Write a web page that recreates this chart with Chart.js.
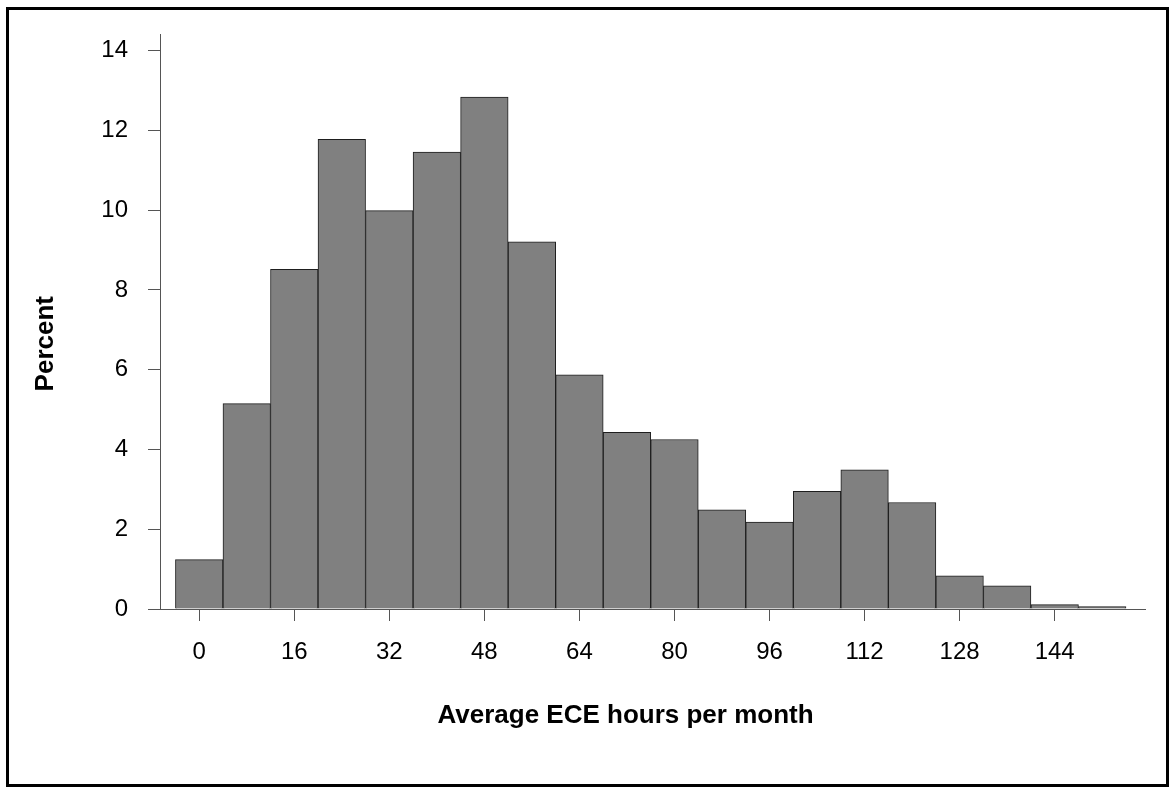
<!DOCTYPE html>
<html>
<head>
<meta charset="utf-8">
<script src="https://cdn.jsdelivr.net/npm/chart.js@4/dist/chart.umd.min.js"></script>
<style>
  html, body { margin: 0; padding: 0; background: #fff; }
  #wrap { position: absolute; left: 0; top: 0; width: 1171px; height: 788px; }
  #frame { position: absolute; left: 6px; top: 7px; width: 1163px; height: 780px; box-sizing: border-box; border: 3px solid #000; pointer-events: none; }
</style>
</head>
<body>
<div id="wrap"><canvas id="c" width="1171" height="788"></canvas></div>
<div id="frame"></div>
<script>
// Bin centres (hours per month), bin width 8
const binCentres = [0, 8, 16, 24, 32, 40, 48, 56, 64, 72, 80, 88, 96, 104, 112, 120, 128, 136, 144, 152];
// Percent of observations in each bin
const percentValues = [1.24, 5.15, 8.52, 11.78, 9.99, 11.46, 12.84, 9.21, 5.87, 4.43, 4.25, 2.49, 2.18, 2.95, 3.49, 2.67, 0.83, 0.58, 0.11, 0.06];
// Tick labels
const xTickValues = [0, 16, 32, 48, 64, 80, 96, 112, 128, 144];
const yTickValues = [0, 2, 4, 6, 8, 10, 12, 14];
const xTitle = 'Average ECE hours per month';
const yTitle = 'Percent';

const FONT = "'Liberation Sans', Arial, Helvetica, sans-serif";
const AXIS = '#555555';

// Axis titles placed where the reference has them (not centred on the plot area)
const titlesPlugin = {
  id: 'axisTitles',
  afterDraw(chart) {
    const ctx = chart.ctx;
    const area = chart.chartArea;
    ctx.save();
    ctx.font = "bold 26px " + FONT;
    ctx.fillStyle = '#000';
    ctx.textAlign = 'center';
    ctx.textBaseline = 'middle';
    // x title
    ctx.fillText(xTitle, area.left + 465.5, area.bottom + 107);
    // y title (rotated)
    ctx.translate(46, (area.top + area.bottom) / 2 + 22);
    ctx.rotate(-Math.PI / 2);
    ctx.fillText(yTitle, 0, 0);
    ctx.restore();
  }
};

new Chart(document.getElementById('c'), {
  type: 'bar',
  data: {
    datasets: [{
      data: binCentres.map((b, i) => ({ x: b, y: percentValues[i] })),
      backgroundColor: '#808080',
      borderColor: '#1e1e1e',
      borderWidth: 1,
      borderSkipped: 'start',
      barPercentage: 1,
      categoryPercentage: 1
    }]
  },
  plugins: [titlesPlugin],
  options: {
    responsive: false,
    animation: false,
    events: [],
    layout: { padding: { left: 0, top: 18, right: 26, bottom: 0 } },
    plugins: { legend: { display: false }, tooltip: { enabled: false } },
    scales: {
      x: {
        type: 'linear',
        offset: false,
        min: -6.6,
        max: 159.2,
        afterBuildTicks: s => { s.ticks = xTickValues.map(v => ({ value: v })); },
        afterFit: s => { s.height = 179; },
        grid: { offset: false, drawOnChartArea: false, drawTicks: true, tickLength: 12, color: AXIS, lineWidth: 1 },
        border: { display: true, color: AXIS, width: 1 },
        ticks: { color: '#000', font: { family: FONT, size: 24 }, padding: 17, maxRotation: 0, autoSkip: false },
        title: { display: false }
      },
      y: {
        min: 0,
        max: 14.41,
        afterBuildTicks: s => { s.ticks = yTickValues.map(v => ({ value: v })); },
        afterFit: s => { s.width = 160; },
        grid: { drawOnChartArea: false, drawTicks: true, tickLength: 12, color: AXIS, lineWidth: 1 },
        border: { display: true, color: AXIS, width: 1 },
        ticks: { color: '#000', font: { family: FONT, size: 24 }, padding: 20 },
        title: { display: false }
      }
    }
  }
});
</script>
</body>
</html>
